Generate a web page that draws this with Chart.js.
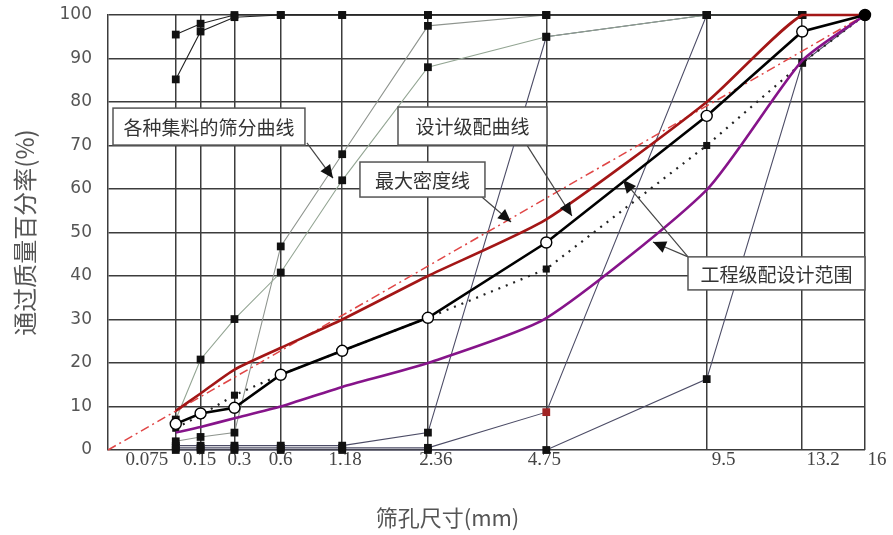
<!DOCTYPE html>
<html>
<head>
<meta charset="utf-8">
<script src="https://cdn.jsdelivr.net/npm/chart.js@4.4.1/dist/chart.umd.min.js"></script>
<style>
html,body{margin:0;padding:0;background:#fff;}
#wrap{width:893px;height:535px;position:relative;}
</style>
</head>
<body>
<div id="wrap"><canvas id="c" width="893" height="535"></canvas></div>
<script>
// ---------------- data ----------------
const sieves       = [0.075, 0.15, 0.3, 0.6, 1.18, 2.36, 4.75, 9.5, 13.2, 16];
const sieveLabels  = ['0.075', '0.15', '0.3', '0.6', '1.18', '2.36', '4.75', '9.5', '13.2', '16'];
const yTicks       = [0, 10, 20, 30, 40, 50, 60, 70, 80, 90, 100];

const designGrading = [6, 8.4, 9.7, 17.3, 22.8, 30.4, 47.7, 76.8, 96.2, 100];
const upperLimit    = [9, 13, 18.5, 23.5, 30, 40, 53, 80, 100, 100];
const lowerLimit    = [4, 5.3, 7.3, 10, 14.5, 20, 30.3, 59.8, 89.5, 100];
const synthGrading  = [5, 8, 12.6, 17.3, 22.8, 30.4, 41.6, 70, 89, 100];
const maxDensitySieves = [0, 16];
const maxDensityValues = [0, 100];

const filler1  = [85.2, 96.2, 99.5, 100, 100, 100, 100, 100, 100, 100];
const filler2  = [95.5, 98, 100, 100, 100, 100, 100, 100, 100, 100];
const sandA    = [7, 20.8, 30.1, 40.8, 62, 88, 95, 100, 100, 100];
const sandB    = [2, 3, 4, 46.8, 68, 97.5, 100, 100, 100, 100];
const coarseC  = [1, 1, 1, 1, 1, 4, 95, 100, 100, 100];
const coarseD  = [0.5, 0.5, 0.5, 0.5, 0.5, 0.5, 8.7, 100, 100, 100];
const coarseE  = [0, 0, 0, 0, 0, 0, 0, 16.3, 89, 100];

// ---------------- layout / style ----------------
const GRAD_POWER = 0.45;                 // x axis: sieve size ^ 0.45
const toX = d => Math.pow(d, GRAD_POWER);
const X_MAX = toX(16);
const Y_AXIS_W = 108, RIGHT_PAD = 28, CANVAS_W = 893;
const PX_PER_UNIT = (CANVAS_W - Y_AXIS_W - RIGHT_PAD) / X_MAX;
const xLabelShiftPx = [-29, -1, 5, 0, 3, 8, -2, 17, 21, 12];
const GRID = '#3c3c3c';

const pts = (vals) => vals.map((v, i) => ({x: toX(sieves[i]), y: v}));

const callouts = [
  {text: '各种集料的筛分曲线', box: [0.023, 78.6, 0.906, 70.1], arrows: [[0.915, 70.6, 1.035, 62.5]]},
  {text: '设计级配曲线',       box: [1.334, 78.85, 2.019, 70.1], arrows: [[1.927, 70.1, 2.134, 53.8]]},
  {text: '最大密度线',         box: [1.159, 66.2, 1.734, 58.15], arrows: [[1.720, 58.15, 1.854, 52.4]]},
  {text: '工程级配设计范围',   box: [2.668, 44.4, 3.482, 36.8], arrows: [[2.668, 44.4, 2.507, 47.8], [2.668, 44.4, 2.369, 62.1]]}
];

const calloutPlugin = {
  id: 'callouts',
  afterDatasetsDraw(chart) {
    const {ctx, scales} = chart;
    const X = scales.x, Y = scales.y;
    ctx.save();
    callouts.forEach(c => {
      c.arrows.forEach(a => {
        const x0 = X.getPixelForValue(a[0]), y0 = Y.getPixelForValue(a[1]);
        const x1 = X.getPixelForValue(a[2]), y1 = Y.getPixelForValue(a[3]);
        ctx.strokeStyle = '#444'; ctx.lineWidth = 1.2;
        ctx.beginPath(); ctx.moveTo(x0, y0); ctx.lineTo(x1, y1); ctx.stroke();
        const ang = Math.atan2(y1 - y0, x1 - x0), L = 13, W = 6;
        ctx.fillStyle = '#111';
        ctx.beginPath();
        ctx.moveTo(x1, y1);
        ctx.lineTo(x1 - L * Math.cos(ang) + W * Math.sin(ang), y1 - L * Math.sin(ang) - W * Math.cos(ang));
        ctx.lineTo(x1 - L * Math.cos(ang) - W * Math.sin(ang), y1 - L * Math.sin(ang) + W * Math.cos(ang));
        ctx.closePath(); ctx.fill();
      });
      const bx0 = X.getPixelForValue(c.box[0]), by0 = Y.getPixelForValue(c.box[1]);
      const bx1 = X.getPixelForValue(c.box[2]), by1 = Y.getPixelForValue(c.box[3]);
      ctx.fillStyle = '#fff';
      ctx.fillRect(bx0, by0, bx1 - bx0, by1 - by0);
      ctx.strokeStyle = '#555'; ctx.lineWidth = 1.5;
      ctx.strokeRect(bx0, by0, bx1 - bx0, by1 - by0);
      ctx.fillStyle = '#333';
      ctx.font = '19px "Noto Sans CJK SC"';
      ctx.textAlign = 'center'; ctx.textBaseline = 'middle';
      ctx.fillText(c.text, (bx0 + bx1) / 2, (by0 + by1) / 2 + 1);
    });
    ctx.restore();
  },
  afterDraw(chart) {
    const {ctx, chartArea} = chart;
    ctx.save();
    ctx.fillStyle = '#555';
    ctx.font = '22px "Noto Sans CJK SC"';
    ctx.textAlign = 'center'; ctx.textBaseline = 'middle';
    ctx.fillText('筛孔尺寸(mm)', (chartArea.left + chartArea.right) / 2 - 39, chartArea.bottom + 68);
    ctx.restore();
  }
};

const aggStyle = (color) => ({
  borderColor: color, borderWidth: 1.1, pointStyle: 'rect', pointRadius: 5.5,
  pointBackgroundColor: '#111', pointBorderWidth: 0, tension: 0, clip: 10
});

const datasets = [
  {label: '设计级配曲线', data: pts(designGrading), borderColor: '#000', borderWidth: 2.6,
   pointStyle: 'circle', pointRadius: 5.5, pointBorderColor: '#000', pointBorderWidth: 1.4,
   pointBackgroundColor: c => c.dataIndex === designGrading.length - 1 ? '#000' : '#fff', tension: 0, clip: 10},
  {label: '上限', data: pts(upperLimit), borderColor: '#a31616', borderWidth: 2.6, pointRadius: 0,
   tension: 0.2, clip: 10},
  {label: '下限', data: pts(lowerLimit), borderColor: '#86148a', borderWidth: 2.6, pointRadius: 0,
   tension: 0.2, clip: 10},
  {label: '合成级配', data: pts(synthGrading), borderColor: '#222', borderWidth: 2.2, borderDash: [2, 6],
   pointStyle: 'rect', pointRadius: 5, pointBackgroundColor: '#111', pointBorderWidth: 0, tension: 0, clip: 10},
  {label: '最大密度线', data: maxDensitySieves.map((d, i) => ({x: toX(d), y: maxDensityValues[i]})),
   borderColor: '#e04646', borderWidth: 1.5, borderDash: [9, 4, 2, 4], pointRadius: 0, clip: 10},
  Object.assign({label: '矿粉1', data: pts(filler1)}, aggStyle('#222')),
  Object.assign({label: '矿粉2', data: pts(filler2)}, aggStyle('#222')),
  Object.assign({label: '石屑', data: pts(sandA)}, aggStyle('#93a593')),
  Object.assign({label: '砂', data: pts(sandB)}, aggStyle('#8f958f')),
  Object.assign({label: '碎石1', data: pts(coarseC)}, aggStyle('#4c4c66')),
  Object.assign({label: '碎石2', data: pts(coarseD)}, aggStyle('#4c4c66'),
    {pointBackgroundColor: c => c.dataIndex === 6 ? '#a02424' : '#111'}),
  Object.assign({label: '碎石3', data: pts(coarseE)}, aggStyle('#4c4c66'))
];

new Chart(document.getElementById('c'), {
  type: 'line',
  data: {datasets},
  plugins: [calloutPlugin],
  options: {
    responsive: false,
    animation: false,
    parsing: true,
    layout: {padding: {top: 15, right: RIGHT_PAD, left: 0, bottom: 0}},
    plugins: {legend: {display: false}, tooltip: {enabled: false}},
    scales: {
      x: {
        type: 'linear', position: 'top', min: 0, max: X_MAX,
        afterBuildTicks: s => { s.ticks = sieves.map(d => ({value: toX(d)})); },
        ticks: {display: false},
        grid: {color: GRID, lineWidth: 1.5, drawTicks: false},
        border: {display: false},
        afterFit: s => { s.height = 0; s.paddingLeft = 0; s.paddingRight = 0; s.paddingTop = 0; s.paddingBottom = 0; }
      },
      xl: {
        type: 'linear', position: 'bottom', min: 0, max: X_MAX,
        afterBuildTicks: s => { s.ticks = sieves.map((d, i) => ({value: toX(d) + xLabelShiftPx[i] / PX_PER_UNIT})); },
        ticks: {autoSkip: false, maxRotation: 0, minRotation: 0, padding: -1,
                callback: (v, i) => sieveLabels[i],
                font: {family: 'Liberation Serif', size: 19}, color: '#444'},
        grid: {display: false, drawTicks: false},
        border: {display: false},
        afterFit: s => { s.height = 85; s.paddingLeft = 0; s.paddingRight = 0; s.paddingTop = 0; s.paddingBottom = 0; }
      },
      y: {
        type: 'linear', min: 0, max: 100,
        afterBuildTicks: s => { s.ticks = yTicks.map(v => ({value: v})); },
        ticks: {font: {family: 'DejaVu Sans', size: 17}, color: '#555', padding: 16},
        grid: {color: GRID, lineWidth: 1.5, drawTicks: false},
        border: {display: true, color: GRID, width: 1.5},
        title: {display: true, text: '通过质量百分率(%)', color: '#555',
                font: {family: 'Noto Sans CJK SC', size: 24}, padding: {top: 10, bottom: 0}},
        afterFit: s => { s.width = Y_AXIS_W; s.paddingTop = 0; s.paddingBottom = 0; }
      }
    }
  }
});
</script>
</body>
</html>
